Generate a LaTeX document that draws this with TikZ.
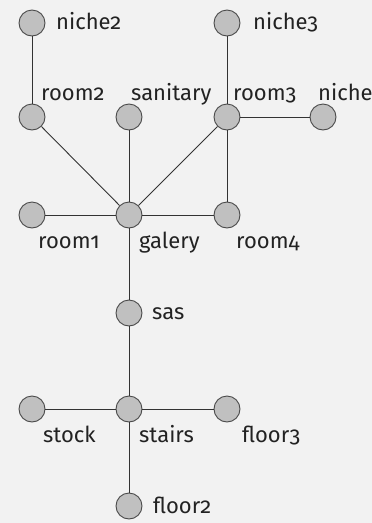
\documentclass[tikz,border=0pt]{standalone}
\usepackage{fontspec}
\setmainfont[Numbers=OldStyle]{Fira Sans}
\definecolor{bg}{HTML}{F2F2F2}
\definecolor{nodefill}{HTML}{C0C0C0}
\definecolor{nodeline}{HTML}{4A4A4A}
\definecolor{edgecol}{HTML}{333333}
\definecolor{txt}{HTML}{222222}
\begin{document}
\begin{tikzpicture}[x=1pt,y=-1pt,
  vtx/.style={circle,draw=nodeline,fill=nodefill,line width=0.9pt,minimum size=26pt,inner sep=0pt},
  lbl/.style={anchor=base west,inner sep=0pt,text=txt,font=\fontsize{22}{26}\selectfont},
  edge/.style={draw=edgecol,line width=0.9pt}]
\fill[bg] (0,0) rectangle (372,523);
\useasboundingbox (0,0) rectangle (372,523);
% vertices
\node[vtx] (niche2) at (32,23) {};
\node[vtx] (niche3) at (227,23) {};
\node[vtx] (room2) at (32,117) {};
\node[vtx] (sanitary) at (129,117) {};
\node[vtx] (room3) at (227,117) {};
\node[vtx] (niche) at (323,117) {};
\node[vtx] (room1) at (32,215) {};
\node[vtx] (galery) at (129,215) {};
\node[vtx] (room4) at (227,215) {};
\node[vtx] (sas) at (129,313) {};
\node[vtx] (stock) at (32,409) {};
\node[vtx] (stairs) at (129,409) {};
\node[vtx] (floor3) at (227,409) {};
\node[vtx] (floor2) at (129,506) {};
% edges
\draw[edge] (niche2) -- (room2);
\draw[edge] (niche3) -- (room3);
\draw[edge] (room3) -- (niche);
\draw[edge] (room2) -- (galery);
\draw[edge] (sanitary) -- (galery);
\draw[edge] (room3) -- (galery);
\draw[edge] (room3) -- (room4);
\draw[edge] (room1) -- (galery);
\draw[edge] (galery) -- (room4);
\draw[edge] (galery) -- (sas);
\draw[edge] (sas) -- (stairs);
\draw[edge] (stock) -- (stairs);
\draw[edge] (stairs) -- (floor3);
\draw[edge] (stairs) -- (floor2);
% labels
\node[lbl] (tniche2) at (56,29) {niche2};
\node[lbl] (tniche3) at (253,29) {niche3};
\node[lbl] (troom2) at (41,100.5) {room2};
\node[lbl] (tsanitary) at (131,100.5) {sanitary};
\node[lbl] (troom3) at (233,100.5) {room3};
\node[lbl] (tniche) at (318,100.5) {niche};
\node[lbl] (troom1) at (38,248) {room1};
\node[lbl] (tgalery) at (139,248) {galery};
\node[lbl] (troom4) at (236,248) {room4};
\node[lbl] (tsas) at (152,319) {sas};
\node[lbl] (tstock) at (43,442) {stock};
\node[lbl] (tstairs) at (139,442) {stairs};
\node[lbl] (tfloor3) at (242,442) {floor3};
\node[lbl] (tfloor2) at (153,513) {floor2};
\end{tikzpicture}
\end{document}
